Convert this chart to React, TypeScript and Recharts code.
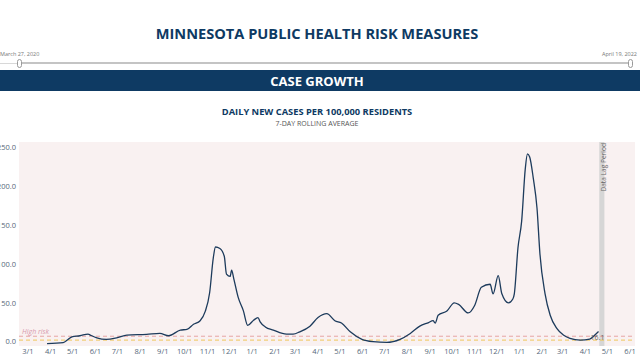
import { CartesianGrid, Line, LineChart, ReferenceArea, ReferenceLine, XAxis, YAxis } from "recharts";

// daily new cases per 100k, 7-day rolling average
const DATES = [
  "2020-03-27", "2020-04-18", "2020-04-25", "2020-04-30", "2020-05-11", "2020-05-22", "2020-05-25",
  "2020-06-03", "2020-06-16", "2020-06-30", "2020-07-14", "2020-08-10", "2020-08-28", "2020-09-09",
  "2020-09-25", "2020-10-04", "2020-10-13", "2020-10-22", "2020-10-29", "2020-11-04", "2020-11-09",
  "2020-11-12", "2020-11-18", "2020-11-24", "2020-11-27", "2020-12-02", "2020-12-04", "2020-12-07",
  "2020-12-13", "2020-12-20", "2020-12-26", "2021-01-03", "2021-01-09", "2021-01-12", "2021-01-19",
  "2021-01-30", "2021-02-17", "2021-02-26", "2021-03-07", "2021-03-21", "2021-04-01", "2021-04-13",
  "2021-04-24", "2021-05-03", "2021-05-15", "2021-05-31", "2021-06-15", "2021-07-04", "2021-07-22",
  "2021-08-05", "2021-08-18", "2021-08-30", "2021-09-05", "2021-09-08", "2021-09-12", "2021-09-24",
  "2021-10-04", "2021-10-10", "2021-10-23", "2021-11-01", "2021-11-10", "2021-11-22", "2021-11-26",
  "2021-12-03", "2021-12-08", "2021-12-17", "2021-12-23", "2021-12-25", "2021-12-30", "2022-01-04",
  "2022-01-09", "2022-01-12", "2022-01-15", "2022-01-20", "2022-01-25", "2022-01-29", "2022-02-05",
  "2022-02-12", "2022-02-21", "2022-03-02", "2022-03-11", "2022-03-25", "2022-04-07", "2022-04-14",
  "2022-04-19",
];
const CASES = [
  0.5, 1.7, 6, 9.3, 10.6, 12.8, 11.5,
  8, 6, 8, 11.5, 12.4, 13.6, 10.6,
  17.9, 18.8, 25.5, 30, 42, 66, 111,
  125, 123, 113, 90, 87, 95, 84,
  60, 43, 24, 30.6, 34, 28.5, 22,
  17.9, 12.8, 12.8, 15.7, 23, 34, 39,
  30, 27, 15.7, 6, 3, 2, 6,
  13.6, 23, 27.6, 30, 27, 37, 42.5,
  53, 51, 40, 50, 73, 77, 64.5,
  88, 64.7, 53, 58, 64.7, 124, 158,
  226, 245, 241, 213, 175, 116, 64.7,
  37, 20, 11.5, 7.3, 5, 6.4, 11.5,
  16.1,
];
const MONTH_TICKS = [
  "2020-03-01", "2020-04-01", "2020-05-01", "2020-06-01", "2020-07-01", "2020-08-01", "2020-09-01",
  "2020-10-01", "2020-11-01", "2020-12-01", "2021-01-01", "2021-02-01", "2021-03-01", "2021-04-01",
  "2021-05-01", "2021-06-01", "2021-07-01", "2021-08-01", "2021-09-01", "2021-10-01", "2021-11-01",
  "2021-12-01", "2022-01-01", "2022-02-01", "2022-03-01", "2022-04-01", "2022-05-01", "2022-06-01",
];
const Y_TICKS = [0, 50, 100, 150, 200, 250];
const HIGH_RISK = 10;
const CAUTION = 5;
const LAG_START = "2022-04-20";
const LAG_END = "2022-04-27";

const NAVY = "#0e3a63";
const AXIS_TEXT = "#56677a";
const FONT = "'Open Sans', 'Noto Sans', sans-serif";

function toTime(s: string): number {
  return Date.parse(s + "T00:00:00Z");
}

function formatMonth(t: number): string {
  const d = new Date(t);
  return `${d.getUTCMonth() + 1}/1`;
}

const data = DATES.map((d, i) => ({ t: toTime(d), cases: CASES[i] }));
const lastIndex = data.length - 1;

function YTick(props: any) {
  const { x, y, payload } = props;
  return (
    <text x={x} y={y - 2.5} textAnchor="end" dominantBaseline="central" fontSize={7.5} fill={AXIS_TEXT} fontFamily={FONT}>
      {Number(payload.value).toFixed(1)}
    </text>
  );
}

function EndLabel(props: any) {
  const { x, y, index, value } = props;
  if (index !== lastIndex) return null;
  return (
    <text x={x - 1} y={y + 9} textAnchor="middle" fontSize={7} fill="#666" fontFamily={FONT}>
      {value}
    </text>
  );
}

export default function App() {
  const xDomain = [toTime("2020-02-17") + 17 * 3600e3, toTime("2022-06-07") + 19 * 3600e3];
  return (
    <div style={{ position: "absolute", left: 0, top: 0, width: 640, height: 360, background: "#fff", overflow: "hidden", fontFamily: FONT }}>
      <div style={{ position: "absolute", left: 0, width: 634, top: 23, textAlign: "center", fontSize: 14.6, fontWeight: 700, color: NAVY }}>
        MINNESOTA PUBLIC HEALTH RISK MEASURES
      </div>
      <div style={{ position: "absolute", left: 0, top: 50, fontSize: 5.5, color: "#777" }}>March 27, 2020</div>
      <div style={{ position: "absolute", right: 3, top: 50, fontSize: 5.5, color: "#777" }}>April 19, 2022</div>
      <div style={{ position: "absolute", left: 0, width: 18, top: 63, height: 1, background: "#d8d8d8" }} />
      <div style={{ position: "absolute", left: 20, width: 610, top: 62, height: 2, background: "#c4c4c4" }} />
      <div style={{ position: "absolute", left: 17, top: 59, width: 3, height: 7, border: "1px solid #9a9a9a", borderRadius: 3, background: "#fff" }} />
      <div style={{ position: "absolute", left: 628, top: 59, width: 3, height: 7, border: "1px solid #9a9a9a", borderRadius: 3, background: "#fff" }} />
      <div style={{ position: "absolute", left: 0, width: 640, top: 70, height: 21, background: NAVY }} />
      <div style={{ position: "absolute", left: 0, width: 634, top: 72, textAlign: "center", fontSize: 13, fontWeight: 700, color: "#fff" }}>
        CASE GROWTH
      </div>
      <div style={{ position: "absolute", left: 0, width: 634, top: 105, textAlign: "center", fontSize: 9.3, fontWeight: 700, color: NAVY }}>
        DAILY NEW CASES PER 100,000 RESIDENTS
      </div>
      <div style={{ position: "absolute", left: 0, width: 634, top: 119, textAlign: "center", fontSize: 7, color: "#555" }}>
        7-DAY ROLLING AVERAGE
      </div>
      <div style={{ position: "absolute", left: 0, top: 0 }}>
        <LineChart width={640} height={360} data={data} margin={{ top: 142, right: 5, bottom: 0, left: 0 }}>
          <CartesianGrid fill="#f9f1f1" horizontal={false} vertical={false} />
          <XAxis
            dataKey="t"
            type="number"
            scale="time"
            domain={xDomain}
            ticks={MONTH_TICKS.map(toTime)}
            tickFormatter={formatMonth}
            interval={0}
            height={14}
            tickLine={false}
            axisLine={false}
            tickSize={0}
            tickMargin={3}
            tick={{ fontSize: 7.5, fill: AXIS_TEXT, fontFamily: FONT }}
          />
          <YAxis
            type="number"
            domain={[-2.6, 260.3]}
            ticks={Y_TICKS}
            width={19}
            tickLine={false}
            axisLine={false}
            tickSize={0}
            tickMargin={3}
            tick={<YTick />}
          />
          <ReferenceArea x1={toTime(LAG_START)} x2={toTime(LAG_END)} fill="#d6d6d6" fillOpacity={1} stroke="none" />
          <ReferenceLine y={HIGH_RISK} stroke="#e6a4a4" strokeDasharray="4 3" strokeWidth={1} />
          <ReferenceLine y={CAUTION} stroke="#efc65a" strokeDasharray="4 3" strokeWidth={1} />
          <Line
            type="monotone"
            dataKey="cases"
            stroke="#1d3b5c"
            strokeWidth={1.3}
            dot={false}
            isAnimationActive={false}
            label={<EndLabel />}
          />
        </LineChart>
      </div>
      <div style={{ position: "absolute", left: 22, top: 327, fontSize: 7, fontStyle: "italic", color: "#d89aae" }}>High risk</div>
      <div
        style={{
          position: "absolute",
          left: 599,
          top: 143,
          fontSize: 6.6,
          color: "#666",
          transformOrigin: "left top",
          transform: "rotate(-90deg) translate(-100%, 0)",
          whiteSpace: "nowrap",
        }}
      >
        Data Lag Period
      </div>
    </div>
  );
}
